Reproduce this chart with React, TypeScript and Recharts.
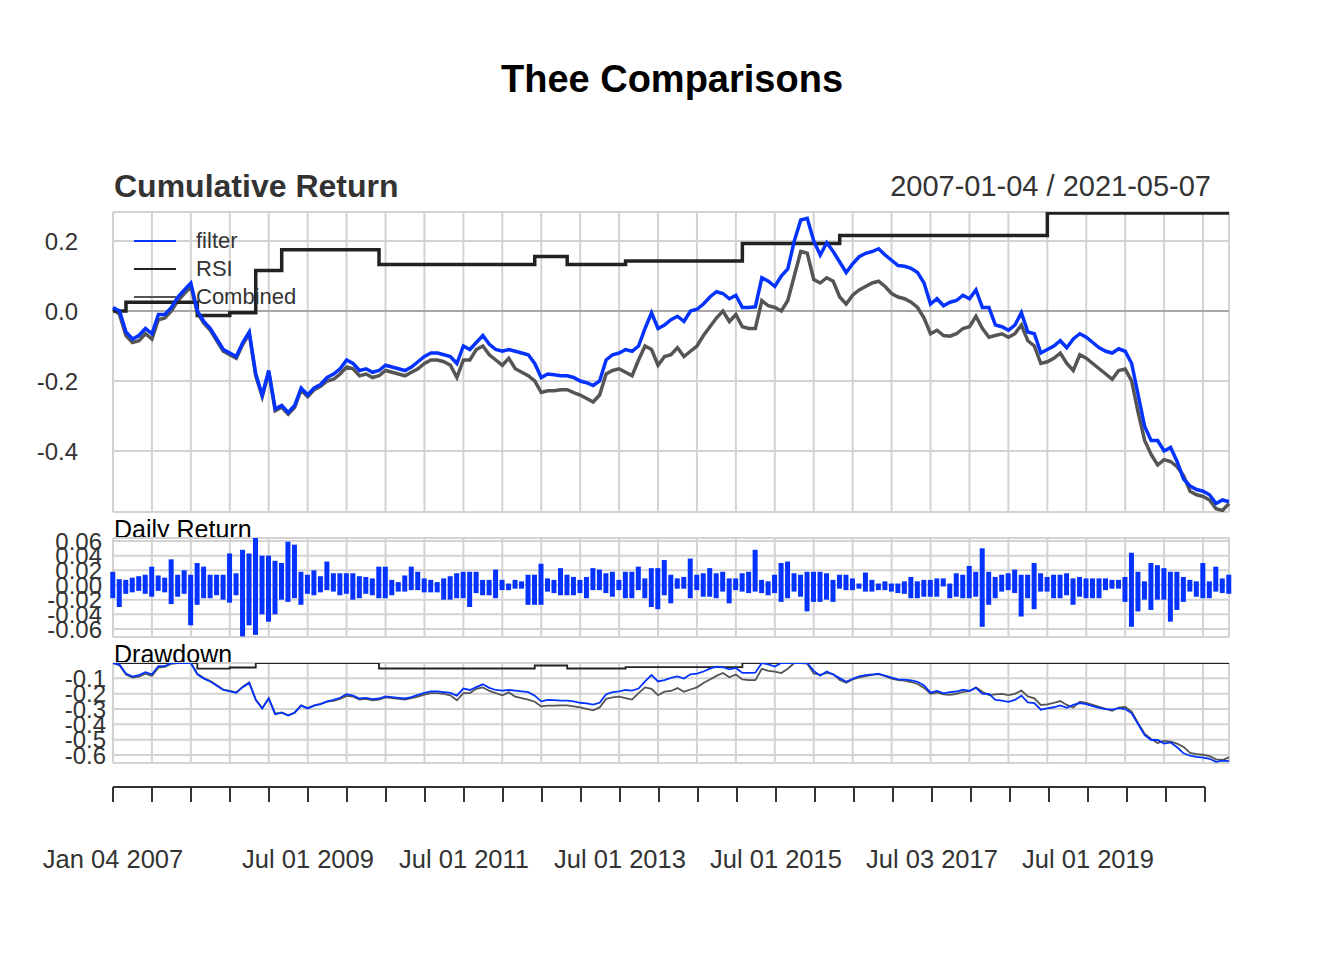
import {
  LineChart,
  Line,
  BarChart,
  Bar,
  XAxis,
  YAxis,
  CartesianGrid,
  ReferenceLine,
  Legend,
} from 'recharts';

// month index 0 = Jan 2007 ... 172 = May 2021
const months = Array.from({ length: 173 }, (_, i) => i);

const halfYearTicks = [
  0, 6, 12, 18, 24, 30, 36, 42, 48, 54, 60, 66, 72, 78, 84, 90, 96, 102, 108, 114, 120, 126, 132, 138, 144,
  150, 156, 162, 168,
];
const labelTicks = [0, 30, 54, 78, 102, 126, 150];
const labelTexts = ['Jan 04 2007', 'Jul 01 2009', 'Jul 01 2011', 'Jul 01 2013', 'Jul 01 2015', 'Jul 03 2017', 'Jul 01 2019'];

const filter = [
  0.01, 0.0, -0.06, -0.08, -0.07, -0.05, -0.065, -0.01, -0.01, 0.01, 0.04, 0.06,
  0.08, 0.0, -0.03, -0.05, -0.08, -0.11, -0.12, -0.13, -0.09, -0.06, -0.18, -0.24,
  -0.17, -0.28, -0.27, -0.29, -0.27, -0.22, -0.24, -0.22, -0.21, -0.19, -0.18, -0.165,
  -0.14, -0.15, -0.17, -0.165, -0.175, -0.17, -0.155, -0.16, -0.165, -0.17, -0.16, -0.145,
  -0.13, -0.12, -0.12, -0.125, -0.13, -0.15, -0.1, -0.11, -0.09, -0.07, -0.095, -0.11,
  -0.115, -0.11, -0.115, -0.12, -0.125, -0.15, -0.19, -0.18, -0.182, -0.185, -0.185, -0.19,
  -0.2, -0.205, -0.213, -0.2, -0.14, -0.125, -0.12, -0.11, -0.115, -0.1, -0.05, -0.005,
  -0.05, -0.04, -0.025, -0.015, -0.03, 0.0, 0.005, 0.02, 0.04, 0.055, 0.05, 0.035,
  0.045, 0.01, 0.01, 0.012, 0.095, 0.085, 0.07, 0.1, 0.12, 0.2, 0.26, 0.265,
  0.2, 0.16, 0.195, 0.17, 0.14, 0.11, 0.135, 0.155, 0.165, 0.17, 0.178, 0.16,
  0.145, 0.13, 0.128, 0.122, 0.11, 0.08, 0.02, 0.035, 0.015, 0.025, 0.03, 0.045,
  0.035, 0.06, 0.01, 0.01, -0.04, -0.045, -0.055, -0.04, -0.005, -0.06, -0.065, -0.12,
  -0.11, -0.1, -0.085, -0.105, -0.08, -0.065, -0.075, -0.09, -0.105, -0.115, -0.12, -0.108,
  -0.115, -0.15, -0.24, -0.33, -0.37, -0.37, -0.4, -0.39, -0.43, -0.48, -0.5, -0.51,
  -0.515, -0.525, -0.55, -0.54, -0.545,
];

const rsi = [
  0, 0, 0.025, 0.025, 0.025, 0.025, 0.025, 0.025, 0.025, 0.025, 0.025, 0.025,
  0.025, -0.013, -0.013, -0.013, -0.013, -0.013, -0.005, -0.005, -0.005, -0.005, 0.116, 0.116,
  0.116, 0.116, 0.175, 0.175, 0.175, 0.175, 0.175, 0.175, 0.175, 0.175, 0.175, 0.175,
  0.175, 0.175, 0.175, 0.175, 0.175, 0.133, 0.133, 0.133, 0.133, 0.133, 0.133, 0.133,
  0.133, 0.133, 0.133, 0.133, 0.133, 0.133, 0.133, 0.133, 0.133, 0.133, 0.133, 0.133,
  0.133, 0.133, 0.133, 0.133, 0.133, 0.156, 0.156, 0.156, 0.156, 0.156, 0.133, 0.133,
  0.133, 0.133, 0.133, 0.133, 0.133, 0.133, 0.133, 0.143, 0.143, 0.143, 0.143, 0.143,
  0.143, 0.143, 0.143, 0.143, 0.143, 0.143, 0.143, 0.143, 0.143, 0.143, 0.143, 0.143,
  0.143, 0.193, 0.193, 0.193, 0.193, 0.193, 0.193, 0.193, 0.193, 0.193, 0.193, 0.193,
  0.193, 0.193, 0.193, 0.193, 0.216, 0.216, 0.216, 0.216, 0.216, 0.216, 0.216, 0.216,
  0.216, 0.216, 0.216, 0.216, 0.216, 0.216, 0.216, 0.216, 0.216, 0.216, 0.216, 0.216,
  0.216, 0.216, 0.216, 0.216, 0.216, 0.216, 0.216, 0.216, 0.216, 0.216, 0.216, 0.216,
  0.28, 0.28, 0.28, 0.28, 0.28, 0.28, 0.28, 0.28, 0.28, 0.28, 0.28, 0.28,
  0.28, 0.28, 0.28, 0.28, 0.28, 0.28, 0.28, 0.28, 0.28, 0.28, 0.28, 0.28,
  0.28, 0.28, 0.28, 0.28, 0.28,
];

const combined = [
  0.005, -0.01, -0.07, -0.09, -0.085, -0.065, -0.08, -0.025, -0.02, 0.0, 0.03, 0.05,
  0.07, -0.005, -0.035, -0.055, -0.085, -0.115, -0.125, -0.135, -0.095, -0.065, -0.185, -0.245,
  -0.175, -0.285, -0.275, -0.295, -0.275, -0.225, -0.245, -0.225, -0.215, -0.2, -0.195, -0.18,
  -0.16, -0.165, -0.185, -0.18, -0.19, -0.185, -0.17, -0.175, -0.18, -0.185, -0.175, -0.165,
  -0.15, -0.14, -0.14, -0.145, -0.155, -0.19, -0.14, -0.14, -0.11, -0.1, -0.125, -0.14,
  -0.155, -0.135, -0.165, -0.175, -0.185, -0.2, -0.233, -0.228, -0.228, -0.225, -0.225, -0.233,
  -0.24, -0.25, -0.26, -0.24, -0.18, -0.17, -0.165, -0.175, -0.185, -0.14, -0.1, -0.11,
  -0.155, -0.13, -0.125, -0.105, -0.13, -0.115, -0.1, -0.07, -0.045, -0.02, 0.0, -0.03,
  -0.01, -0.045, -0.05, -0.05, 0.03, 0.015, 0.01, 0.0, 0.03, 0.1, 0.17, 0.165,
  0.09, 0.08, 0.095, 0.085, 0.04, 0.02, 0.045, 0.06, 0.07, 0.08, 0.085, 0.07,
  0.05, 0.04, 0.035, 0.025, 0.01, -0.02, -0.065, -0.055, -0.07, -0.072, -0.065, -0.05,
  -0.045, -0.015, -0.05, -0.075, -0.07, -0.065, -0.075, -0.065, -0.04, -0.085, -0.1, -0.15,
  -0.145, -0.135, -0.12, -0.15, -0.17, -0.125, -0.135, -0.15, -0.165, -0.18, -0.195, -0.17,
  -0.166, -0.2, -0.29, -0.37, -0.41, -0.44, -0.425, -0.43, -0.445, -0.47, -0.515, -0.525,
  -0.53, -0.54, -0.565, -0.57, -0.55,
];

// largest gain / loss of the filter strategy within each month
const dailyUp = [
  0.018, 0.008, 0.007, 0.01, 0.012, 0.014, 0.025, 0.013, 0.01, 0.035, 0.014, 0.02,
  0.014, 0.03, 0.025, 0.014, 0.014, 0.014, 0.043, 0.016, 0.048, 0.043, 0.065, 0.04,
  0.04, 0.033, 0.03, 0.059, 0.055, 0.018, 0.014, 0.02, 0.012, 0.032, 0.016, 0.016,
  0.016, 0.016, 0.012, 0.011, 0.009, 0.025, 0.025, 0.007, 0.004, 0.013, 0.025, 0.018,
  0.009, 0.007, 0.004, 0.009, 0.012, 0.016, 0.018, 0.018, 0.018, 0.007, 0.007, 0.021,
  0.007, 0.002, 0.007, 0.005, 0.014, 0.014, 0.029, 0.009, 0.007, 0.023, 0.014, 0.011,
  0.007, 0.011, 0.023, 0.021, 0.016, 0.018, 0.007, 0.018, 0.018, 0.025, 0.009, 0.023,
  0.023, 0.034, 0.014, 0.009, 0.011, 0.036, 0.014, 0.016, 0.023, 0.016, 0.018, 0.009,
  0.009, 0.016, 0.018, 0.048, 0.007, 0.005, 0.014, 0.03, 0.032, 0.016, 0.014, 0.018,
  0.018, 0.018, 0.016, 0.007, 0.014, 0.014, 0.009, 0.002, 0.017, 0.007, 0.002, 0.005,
  0.002, 0.002, 0.005, 0.011, 0.005, 0.007, 0.007, 0.009, 0.009, 0.002, 0.016, 0.014,
  0.026, 0.018, 0.05, 0.018, 0.011, 0.014, 0.016, 0.021, 0.014, 0.014, 0.03, 0.016,
  0.011, 0.014, 0.014, 0.016, 0.009, 0.011, 0.009, 0.009, 0.009, 0.009, 0.007, 0.007,
  0.011, 0.044, 0.018, 0.005, 0.03, 0.027, 0.023, 0.018, 0.018, 0.011, 0.007, 0.005,
  0.03, 0.005, 0.025, 0.009, 0.014,
];

const dailyDown = [
  -0.018, -0.03, -0.012, -0.01, -0.008, -0.012, -0.016, -0.008, -0.01, -0.026, -0.016, -0.012,
  -0.055, -0.027, -0.018, -0.018, -0.014, -0.02, -0.024, -0.014, -0.07, -0.055, -0.068, -0.04,
  -0.05, -0.04, -0.02, -0.023, -0.018, -0.027, -0.012, -0.014, -0.01, -0.007, -0.009, -0.014,
  -0.012, -0.02, -0.018, -0.012, -0.014, -0.018, -0.018, -0.014, -0.009, -0.009, -0.007, -0.007,
  -0.01, -0.01, -0.01, -0.02, -0.02, -0.018, -0.018, -0.03, -0.011, -0.014, -0.014, -0.018,
  -0.007, -0.007, -0.005, -0.005, -0.027, -0.027, -0.027, -0.009, -0.011, -0.014, -0.014, -0.014,
  -0.011, -0.018, -0.007, -0.007, -0.011, -0.016, -0.007, -0.018, -0.018, -0.007, -0.018, -0.03,
  -0.033, -0.014, -0.025, -0.005, -0.005, -0.018, -0.007, -0.016, -0.016, -0.018, -0.009, -0.025,
  -0.007, -0.009, -0.011, -0.009, -0.011, -0.014, -0.011, -0.023, -0.018, -0.009, -0.016, -0.036,
  -0.023, -0.023, -0.02, -0.023, -0.005, -0.007, -0.007, -0.005, -0.009, -0.009, -0.007, -0.007,
  -0.009, -0.011, -0.012, -0.018, -0.018, -0.016, -0.016, -0.016, -0.002, -0.018, -0.016, -0.018,
  -0.018, -0.016, -0.057, -0.027, -0.018, -0.009, -0.007, -0.011, -0.043, -0.018, -0.033, -0.009,
  -0.009, -0.018, -0.018, -0.014, -0.027, -0.016, -0.018, -0.018, -0.018, -0.007, -0.005, -0.005,
  -0.023, -0.057, -0.036, -0.02, -0.034, -0.02, -0.02, -0.05, -0.034, -0.023, -0.009, -0.016,
  -0.018, -0.018, -0.009, -0.011, -0.012,
];

const toDrawdown = (cum: number[]) => {
  let peak = 1;
  return cum.map((c) => {
    const w = 1 + c;
    if (w > peak) peak = w;
    return w / peak - 1;
  });
};

const ddFilter = toDrawdown(filter);
const ddRsi = toDrawdown(rsi);
const ddCombined = toDrawdown(combined);

const cumRows = months.map((m) => ({ m, filter: filter[m], rsi: rsi[m], combined: combined[m] }));
const retRows = months.map((m) => ({ m, up: dailyUp[m], down: dailyDown[m] }));
const ddRows = months.map((m) => ({ m, filter: ddFilter[m], rsi: ddRsi[m], combined: ddCombined[m] }));

const FONT = '"Liberation Sans", Arial, Helvetica, sans-serif';
const BLUE = '#0433ff';
const BLACK = '#222222';
const GRAY = '#555555';
const GRID = '#d3d3d3';

const legendItems = [
  { name: 'filter', color: BLUE },
  { name: 'RSI', color: BLACK },
  { name: 'Combined', color: GRAY },
];

const SeriesLegend = () => (
  <div style={{ fontFamily: FONT, fontSize: 22, color: '#333' }}>
    {legendItems.map((it) => (
      <div key={it.name} style={{ display: 'flex', alignItems: 'center', height: 28 }}>
        <svg width={42} height={4} style={{ marginRight: 20 }}>
          <line x1={0} y1={2} x2={42} y2={2} stroke={it.color} strokeWidth={2} />
        </svg>
        <span>{it.name}</span>
      </div>
    ))}
  </div>
);

const tickStyle = { fontSize: 24, fill: '#333', fontFamily: FONT };

export default function App() {
  return (
    <div style={{ position: 'absolute', left: 0, top: 0, width: 1344, height: 960, background: '#fff', fontFamily: FONT }}>
      <svg width={1344} height={960} style={{ position: 'absolute', left: 0, top: 0 }}>
        <text x={672} y={92} textAnchor="middle" fontSize={38} fontWeight="bold" fill="#000" fontFamily={FONT}>
          Thee Comparisons
        </text>
        <text x={114} y={197} fontSize={32} fontWeight="bold" fill="#333" fontFamily={FONT}>
          Cumulative Return
        </text>
        <text x={1211} y={196} textAnchor="end" fontSize={29} fill="#333" fontFamily={FONT}>
          2007-01-04 / 2021-05-07
        </text>
        <text x={114} y={538} fontSize={25} fill="#000" fontFamily={FONT}>
          Daily Return
        </text>
        <text x={114} y={663} fontSize={25} fill="#000" fontFamily={FONT}>
          Drawdown
        </text>
      </svg>

      {/* cumulative return */}
      <div style={{ position: 'absolute', left: 0, top: 197 }}>
        <LineChart width={1344} height={330} data={cumRows} margin={{ top: 15, right: 115, bottom: 15, left: 0 }}>
          <CartesianGrid stroke={GRID} strokeWidth={2} fill="#fff" />
          <XAxis dataKey="m" type="number" domain={[0, 172]} ticks={halfYearTicks} hide />
          <YAxis
            type="number"
            domain={[-0.5743, 0.2829]}
            ticks={[0.2, 0, -0.2, -0.4]}
            allowDataOverflow
            width={113}
            axisLine={false}
            tickLine={false}
            tickSize={0}
            tickMargin={35}
            tick={tickStyle}
            tickFormatter={(v: number) => v.toFixed(1)}
          />
          <ReferenceLine y={0} stroke="#a6a6a6" strokeWidth={2} />
          <Line dataKey="combined" type="linear" stroke={GRAY} strokeWidth={3.5} dot={false} isAnimationActive={false} />
          <Line dataKey="rsi" type="stepAfter" stroke={BLACK} strokeWidth={3.5} dot={false} isAnimationActive={false} />
          <Line dataKey="filter" type="linear" stroke={BLUE} strokeWidth={3.5} dot={false} isAnimationActive={false} />
          <Legend
            layout="vertical"
            align="center"
            verticalAlign="middle"
            content={() => <SeriesLegend />}
            wrapperStyle={{ top: 30, left: 134, width: 'auto' }}
          />
        </LineChart>
      </div>

      {/* daily return */}
      <div style={{ position: 'absolute', left: 0, top: 523 }}>
        <BarChart
          width={1344}
          height={129}
          data={retRows}
          stackOffset="sign"
          barCategoryGap="8%"
          margin={{ top: 15, right: 115, bottom: 15, left: 0 }}
        >
          <CartesianGrid stroke={GRID} strokeWidth={2} fill="#fff" />
          <XAxis dataKey="m" type="number" domain={[0, 172]} ticks={halfYearTicks} hide />
          <YAxis
            type="number"
            domain={[-0.07089, 0.06408]}
            ticks={[0.06, 0.04, 0.02, 0, -0.02, -0.04, -0.06]}
            allowDataOverflow
            width={113}
            axisLine={false}
            tickLine={false}
            tickSize={0}
            tickMargin={11}
            tick={tickStyle}
            tickFormatter={(v: number) => v.toFixed(2)}
            interval={0}
          />
          <Bar dataKey="up" stackId="r" fill={BLUE} isAnimationActive={false} />
          <Bar dataKey="down" stackId="r" fill={BLUE} isAnimationActive={false} />
        </BarChart>
      </div>

      {/* drawdown */}
      <div style={{ position: 'absolute', left: 0, top: 648 }}>
        <LineChart width={1344} height={130} data={ddRows} margin={{ top: 15, right: 115, bottom: 15, left: 0 }}>
          <CartesianGrid stroke={GRID} strokeWidth={2} fill="#fff" />
          <XAxis dataKey="m" type="number" domain={[0, 172]} ticks={halfYearTicks} hide />
          <YAxis
            type="number"
            domain={[-0.652, 0]}
            ticks={[-0.1, -0.2, -0.3, -0.4, -0.5, -0.6]}
            allowDataOverflow
            width={113}
            axisLine={false}
            tickLine={false}
            tickSize={0}
            tickMargin={7}
            tick={tickStyle}
            tickFormatter={(v: number) => v.toFixed(1)}
            interval={0}
          />
          <Line dataKey="combined" type="linear" stroke={GRAY} strokeWidth={1.8} dot={false} isAnimationActive={false} />
          <Line dataKey="rsi" type="stepAfter" stroke={BLACK} strokeWidth={1.8} dot={false} isAnimationActive={false} />
          <Line dataKey="filter" type="linear" stroke={BLUE} strokeWidth={1.8} dot={false} isAnimationActive={false} />
        </LineChart>
      </div>

      {/* time axis: the axis line covers Jan 2007 .. Jan 2021 */}
      <div style={{ position: 'absolute', left: 0, top: 770 }}>
        <LineChart
          width={1344}
          height={110}
          data={cumRows.slice(0, 169)}
          margin={{ top: 10, right: 139, bottom: 0, left: 113 }}
        >
          <XAxis
            dataKey="m"
            type="number"
            domain={[0, 168]}
            allowDataOverflow
            ticks={halfYearTicks}
            interval={0}
            height={93}
            axisLine={{ stroke: '#333', strokeWidth: 2 }}
            tickLine={{ stroke: '#333', strokeWidth: 2 }}
            tickSize={15}
            tickMargin={48}
            tick={{ ...tickStyle, fontSize: 25.5 }}
            tickFormatter={(v: number) => {
              const k = labelTicks.indexOf(v);
              return k >= 0 ? labelTexts[k] : '';
            }}
          />
          <YAxis hide domain={[0, 1]} />
        </LineChart>
      </div>
    </div>
  );
}
